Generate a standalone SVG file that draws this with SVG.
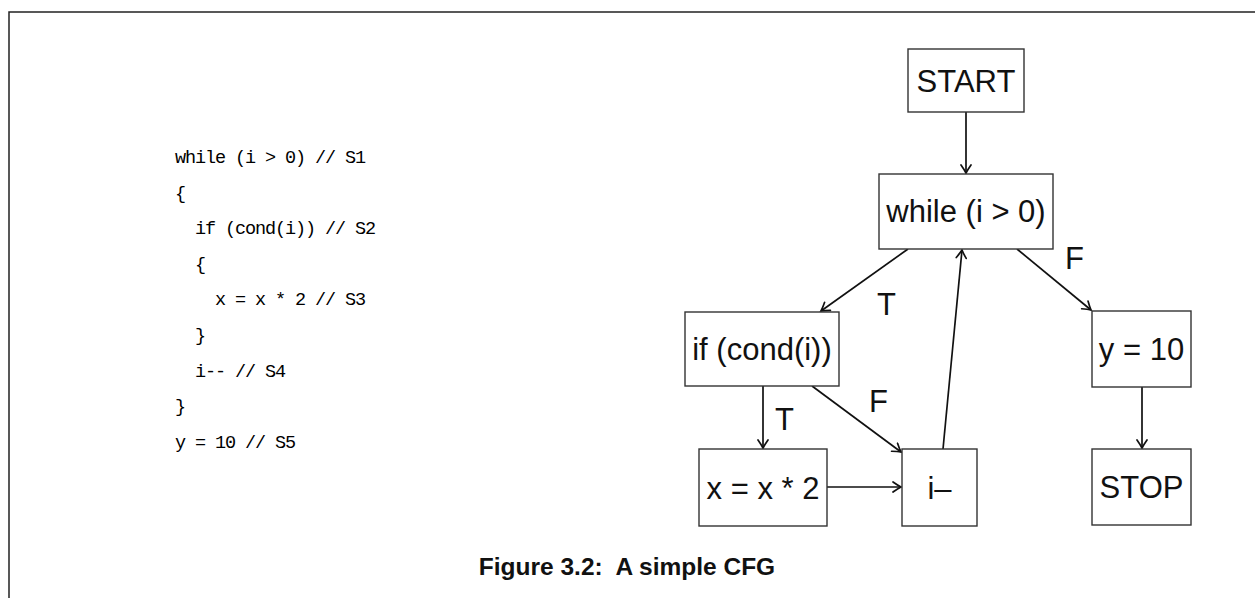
<svg xmlns="http://www.w3.org/2000/svg" width="1255" height="598" viewBox="0 0 1255 598">
  <defs>
    <marker id="arrow" viewBox="-10 -6 12 12" markerWidth="12" markerHeight="12" refX="0" refY="0" orient="auto" markerUnits="userSpaceOnUse">
      <path d="M-8,-5 Q-3,-1.5 0,0 Q-3,1.5 -8,5" fill="none" stroke="#111" stroke-width="1.7" stroke-linecap="round"/>
    </marker>
    <style>
      .frame { fill: none; stroke: #222; stroke-width: 1.5; }
      .box { fill: #fff; stroke: #333; stroke-width: 1.4; }
      .lbl { font-family: "Liberation Sans", Arial, sans-serif; font-size: 31px; fill: #111; text-anchor: middle; }
      .edge-label { font-family: "Liberation Sans", Arial, sans-serif; font-size: 31px; fill: #111; }
      .code { font-family: "Liberation Mono", "DejaVu Sans Mono", monospace; font-size: 18.5px; letter-spacing: -1.1px; fill: #000; white-space: pre; }
      .caption { font-family: "Liberation Sans", Arial, sans-serif; font-size: 24.5px; font-weight: bold; fill: #111; text-anchor: middle; white-space: pre; }
      .edge { fill: none; stroke: #111; stroke-width: 1.7; marker-end: url(#arrow); }
    </style>
  </defs>

  <rect width="1255" height="598" fill="#fff"/>
  <!-- page frame: top and left rules -->
  <path class="frame" d="M9,598 V12 H1255"/>

  <!-- source listing -->
  <g id="code">
    <text class="code" x="175" y="163">while (i &gt; 0) // S1</text>
    <text class="code" x="175" y="199">{</text>
    <text class="code" x="175" y="234">  if (cond(i)) // S2</text>
    <text class="code" x="175" y="270">  {</text>
    <text class="code" x="175" y="305">    x = x * 2 // S3</text>
    <text class="code" x="175" y="341">  }</text>
    <text class="code" x="175" y="377">  i-- // S4</text>
    <text class="code" x="175" y="412">}</text>
    <text class="code" x="175" y="448">y = 10 // S5</text>
  </g>

  <!-- control-flow edges -->
  <g id="edges">
    <line class="edge" x1="966" y1="112" x2="966" y2="173"/>
    <line class="edge" x1="908" y1="249" x2="821" y2="311"/>
    <line class="edge" x1="1017" y1="249" x2="1091" y2="310"/>
    <line class="edge" x1="763" y1="386" x2="763" y2="448"/>
    <line class="edge" x1="812" y1="386" x2="901" y2="452"/>
    <line class="edge" x1="827" y1="487" x2="901" y2="487"/>
    <line class="edge" x1="943" y1="449" x2="962" y2="250"/>
    <line class="edge" x1="1142" y1="387" x2="1142" y2="448"/>
    <text class="edge-label" x="877" y="315">T</text>
    <text class="edge-label" x="1065" y="269">F</text>
    <text class="edge-label" x="775" y="430">T</text>
    <text class="edge-label" x="869" y="412">F</text>
  </g>

  <!-- nodes -->
  <g id="start">
    <rect class="box" x="908" y="49" width="116" height="63"/>
    <text class="lbl" x="966" y="92">START</text>
  </g>
  <g id="while">
    <rect class="box" x="879" y="174" width="174" height="75"/>
    <text class="lbl" x="966" y="222">while (i &gt; 0)</text>
  </g>
  <g id="if">
    <rect class="box" x="685" y="312" width="154" height="74"/>
    <text class="lbl" x="762" y="360">if (cond(i))</text>
  </g>
  <g id="assign-y">
    <rect class="box" x="1092" y="311" width="99" height="76"/>
    <text class="lbl" x="1141.5" y="360">y = 10</text>
  </g>
  <g id="assign-x">
    <rect class="box" x="699" y="449" width="128" height="77"/>
    <text class="lbl" x="763" y="499">x = x * 2</text>
  </g>
  <g id="decrement">
    <rect class="box" x="902" y="449" width="75" height="77"/>
    <text class="lbl" x="939.5" y="499">i–</text>
  </g>
  <g id="stop">
    <rect class="box" x="1092" y="449" width="99" height="76"/>
    <text class="lbl" x="1141.5" y="498">STOP</text>
  </g>

  <text class="caption" x="627" y="575">Figure 3.2:  A simple CFG</text>
</svg>
